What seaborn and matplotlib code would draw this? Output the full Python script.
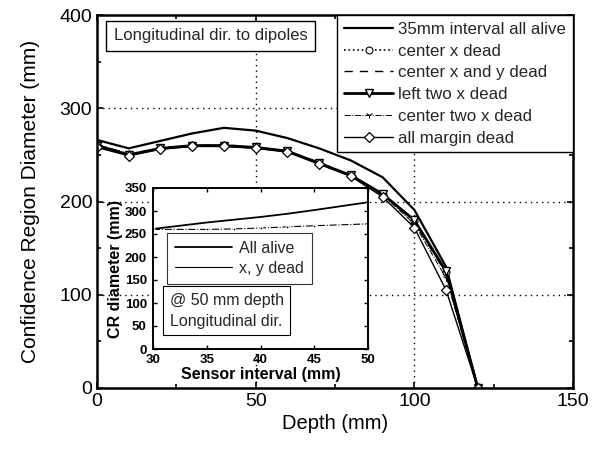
import numpy as np
import pandas as pd
import matplotlib
matplotlib.use("Agg")
import matplotlib.pyplot as plt
import seaborn as sns
from matplotlib.ticker import MultipleLocator

# main chart data: confidence region diameter vs depth
depth = [0, 10, 20, 30, 40, 50, 60, 70, 80, 90, 100, 110, 120]
all_alive = [266, 257, 265, 273, 279, 276, 268, 257, 244, 226, 191, 130, 0]
center_x_dead = [261, 251, 257, 260, 260, 258, 254, 241, 228, 208, 179, 124, 0]
center_xy_dead = [261, 251, 257, 260, 261, 258, 254, 242, 228, 208, 178, 123, 0]
left_two_x_dead = [260, 250, 257, 260, 260, 258, 254, 241, 228, 208, 180, 125, 0]
center_two_x_dead = [259, 250, 256, 259, 260, 258, 254, 241, 228, 207, 176, 118, 0]
all_margin_dead = [258, 249, 256, 259, 259, 257, 253, 240, 227, 205, 172, 105, 0]

# inset data: CR diameter vs sensor interval at 50 mm depth
interval = [30, 35, 37.5, 40, 42.5, 45, 50]
inset_alive = [261, 275, 281, 287, 294, 302, 319]
inset_xy_dead = [260, 260, 261, 263, 265.5, 268, 272]

sns.set_theme(style="ticks")
plt.rcParams['font.family'] = ['Liberation Sans', 'DejaVu Sans']
plt.rcParams['axes.linewidth'] = 1.8
plt.rcParams['xtick.direction'] = 'in'
plt.rcParams['ytick.direction'] = 'in'

fig = plt.figure(figsize=(6.01, 4.54), dpi=100)
ax = fig.add_axes([97 / 601, 66 / 454, 476 / 601, 373 / 454])

series = [
    ("35mm interval all alive", all_alive, dict(linestyle='-', linewidth=1.6)),
    ("center x dead", center_x_dead, dict(linestyle=':', linewidth=1.2, marker='o', markersize=5,
                                          markerfacecolor='white', markeredgewidth=0.8)),
    ("center x and y dead", center_xy_dead, dict(linestyle=(0, (6, 5)), linewidth=1.0)),
    ("left two x dead", left_two_x_dead, dict(linestyle='-', linewidth=2.0, marker='v', markersize=6,
                                              markerfacecolor='white', markeredgewidth=1.0)),
    ("center two x dead", center_two_x_dead, dict(linestyle='-.', linewidth=0.7, marker='1', markersize=5)),
    ("all margin dead", all_margin_dead, dict(linestyle='-', linewidth=1.0, marker='D', markersize=5,
                                              markerfacecolor='white', markeredgewidth=0.9)),
]
for label, vals, kw in series:
    sns.lineplot(x=depth, y=vals, ax=ax, color='black', label=label)
    ax.lines[-1].set(color='black', markeredgecolor='black', **kw)

ax.set_xlim(0, 150)
ax.set_ylim(0, 400)
ax.xaxis.set_major_locator(MultipleLocator(50))
ax.yaxis.set_major_locator(MultipleLocator(100))
ax.xaxis.set_minor_locator(MultipleLocator(25))
ax.yaxis.set_minor_locator(MultipleLocator(50))
ax.tick_params(which='both', top=True, right=True, length=4, width=1.2, labelsize=14, colors='black')
ax.tick_params(which='minor', length=3)
for s in ax.spines.values():
    s.set_color('black')
for v in [50, 100]:
    ax.axvline(v, color='black', linestyle=(0, (1, 3)), linewidth=1.0, zorder=0)
for v in [100, 200, 300]:
    ax.axhline(v, color='black', linestyle=(0, (1, 3)), linewidth=1.0, zorder=0)
ax.set_xlabel("Depth (mm)", fontsize=14.5, color='black', labelpad=3)
ax.set_ylabel("Confidence Region Diameter (mm)", fontsize=15, color='black', labelpad=14)

leg = ax.legend(loc='upper right', borderaxespad=0, fontsize=12.2, frameon=True, fancybox=False,
                handlelength=2.9, handletextpad=0.3, labelspacing=0.4, borderpad=0.4)
leg.get_frame().set_edgecolor('black')
leg.get_frame().set_linewidth(1.0)
leg.get_frame().set_alpha(1)

ax.text(5.2, 378, "Longitudinal dir. to dipoles", fontsize=12, va='center', ha='left',
        bbox=dict(boxstyle='square,pad=0.45', facecolor='white', edgecolor='black', linewidth=1.0))

# inset
ins = fig.add_axes([153 / 601, 105 / 454, 215 / 601, 161 / 454])
sns.lineplot(x=interval, y=inset_alive, ax=ins, color='black', label="All alive")
ins.lines[-1].set(linewidth=1.3)
sns.lineplot(x=interval, y=inset_xy_dead, ax=ins, color='black', label="x, y dead")
ins.lines[-1].set(linewidth=0.8, linestyle='-.', marker='.', markersize=4)
ins.set_xlim(30, 50)
ins.set_ylim(0, 350)
ins.xaxis.set_major_locator(MultipleLocator(5))
ins.yaxis.set_major_locator(MultipleLocator(50))
ins.tick_params(which='both', top=True, right=True, length=3, width=1.0, labelsize=9.5, colors='black')
ins.tick_params(axis='y', pad=4.5)
ins.tick_params(axis='x', pad=3.5)
for s in ins.spines.values():
    s.set_color('black')
    s.set_linewidth(1.4)
for lab in ins.get_xticklabels() + ins.get_yticklabels():
    lab.set_fontweight('bold')
ins.set_xlabel("Sensor interval (mm)", fontsize=11.5, fontweight='bold', labelpad=1, color='black')
ins.set_ylabel("CR diameter (mm)", fontsize=11.5, fontweight='bold', labelpad=1, color='black')
ileg = ins.legend(loc='upper left', bbox_to_anchor=(0.065, 0.72), borderaxespad=0, fontsize=11.5,
                  frameon=True, fancybox=False, handlelength=3.6, handletextpad=0.4,
                  labelspacing=0.3, borderpad=0.5)
ileg.get_frame().set_edgecolor('black')
ileg.get_frame().set_linewidth(0.8)
for h in ileg.legend_handles:
    h.set_linestyle('-')
    h.set_marker('')
ins.text(31.55, 122, "@ 50 mm depth\nLongitudinal dir.", fontsize=11.5, va='top', ha='left',
         linespacing=1.5,
         bbox=dict(boxstyle='square,pad=0.4', facecolor='white', edgecolor='black', linewidth=0.8))

fig.savefig("out.png", dpi=100)
